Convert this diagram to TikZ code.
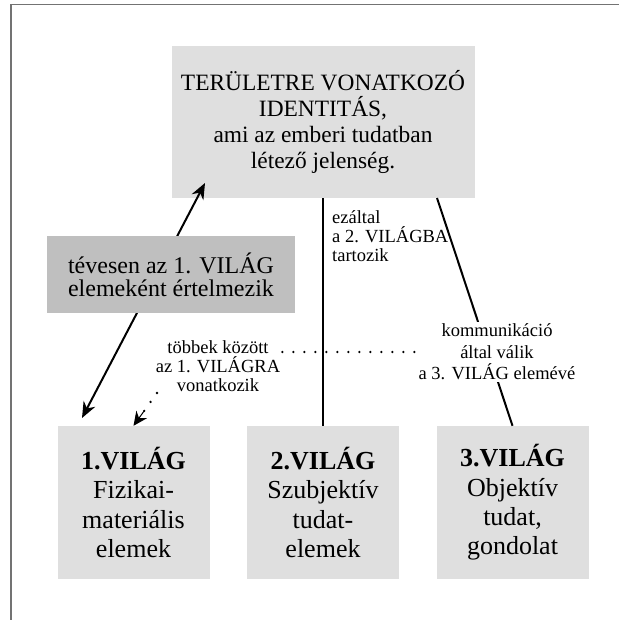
\documentclass[tikz,border=0pt]{standalone}
\usepackage{fontspec}
\setmainfont{Liberation Serif}
\usepackage{xcolor}
\usepackage{tikz}
\usetikzlibrary{arrows.meta}
\tikzset{
  idbox/.style={fill=gray!25,inner sep=0pt,align=center,minimum width=303pt,minimum height=152pt,font=\fontsize{23.4}{26}\selectfont},
  errbox/.style={fill=gray!50,inner sep=0pt,align=center,minimum width=248pt,minimum height=77pt,font=\fontsize{24}{23.3}\selectfont},
  wbox/.style={fill=gray!25,inner sep=0pt,align=center,minimum width=152pt,minimum height=153pt,font=\fontsize{26}{29.4}\selectfont},
  lbl/.style={inner sep=2pt,align=center,font=\fontsize{18.5}{19.2}\selectfont},
  ln/.style={line width=2pt},
  arr/.style={line width=2pt,{Stealth[length=16pt,width=13pt]}-{Stealth[length=16pt,width=13pt]}},
  dots/.style={line width=2.6pt,line cap=round,dash pattern=on 0pt off 11pt},
  dothead/.style={line width=1pt,shorten <=22pt,-{Stealth[length=14pt,width=13pt]}},
  frame/.style={line width=1.2pt,black!55}
}

\begin{document}
\begin{tikzpicture}[x=1pt,y=-1pt]
\useasboundingbox (0,0) rectangle (619,620);
\draw[frame] (11,620) -- (11,4.5) -- (619,4.5);
% top box and the three worlds
\node[idbox] (id) at (323,122) {TERÜLETRE VONATKOZÓ\\IDENTITÁS,\\ami az emberi tudatban\\létező jelenség.};
\node[wbox] (w1) at (133.5,502.5) {\textbf{1.VILÁG}\\Fizikai-\\materiális\\elemek};
\node[wbox] (w2) at (323,502.5) {\textbf{2.VILÁG}\\Szubjektív\\tudat-\\elemek};
\node[wbox] (w3) at (512.5,502.5) {\textbf{3.VILÁG}\\Objektív\\tudat,\\gondolat};
\coordinate (a0) at (82,418); \coordinate (a1) at (205,183);
\draw[arr] (a0) -- (a1);
\node[errbox] (err) at (171,274.5) {tévesen az 1. VILÁG\\elemeként értelmezik};
\draw[ln] (id.south) -- (w2.north);
\node[lbl,anchor=west,align=left] (by2) at (330,236) {ezáltal\\a 2. VILÁGBA\\tartozik};
\coordinate (d0) at (437,198);
\draw[ln] (d0) -- (w3.north);
\node[lbl,fill=white,font=\fontsize{18.5}{21.5}\selectfont] (by3) at (497,352) {kommunikáció\\által válik\\a 3. VILÁG elemévé};
\node[lbl] (rel1) at (218,366) {többek között\\az 1. VILÁGRA\\vonatkozik};
\draw[dots] (rel1.east |- by3.west) -- (by3.west);
% dotted arrow, head drawn solid
\coordinate (q0) at (157,393);
\draw[dots,shorten >=14pt] (q0) -- (w1.north);
\draw[dothead] (q0) -- (w1.north);
\end{tikzpicture}
\end{document}
